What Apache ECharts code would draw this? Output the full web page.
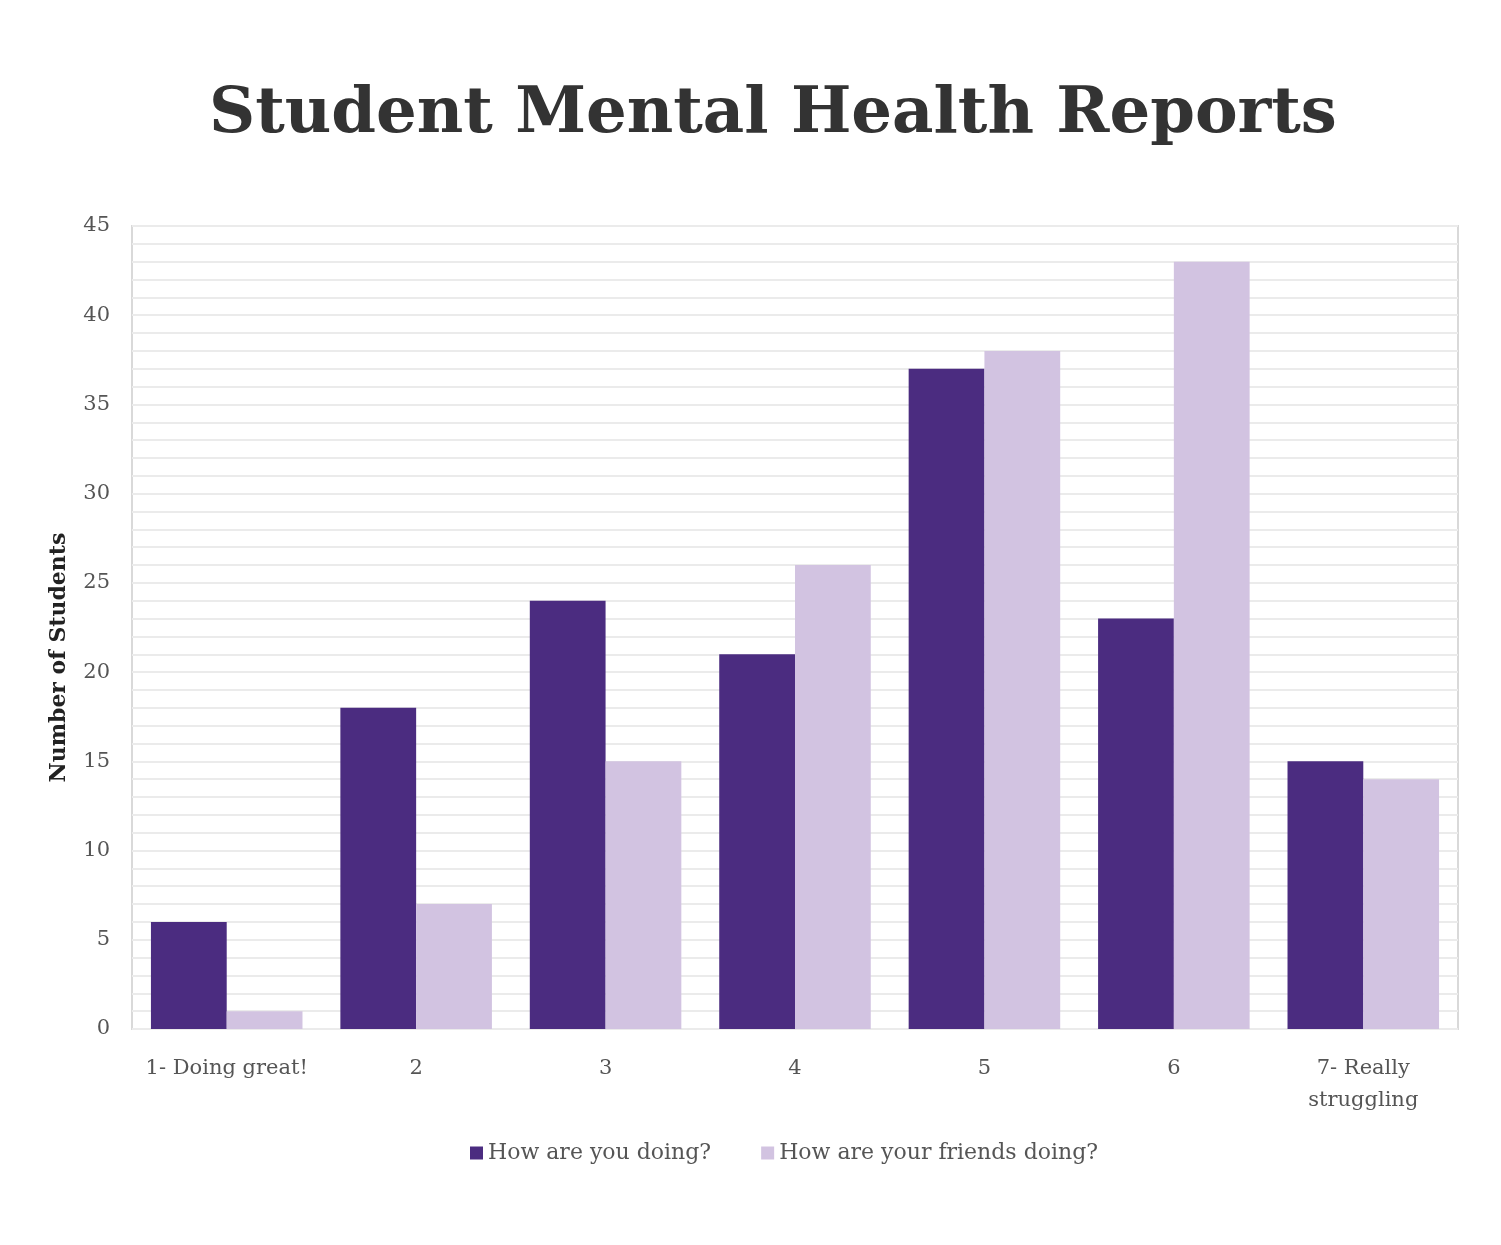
<!DOCTYPE html>
<html><head><meta charset="utf-8">
<script src="https://cdn.jsdelivr.net/npm/echarts@6/dist/echarts.min.js"></script>
<style>html,body{margin:0;padding:0;background:#fff}#c{width:1501px;height:1245px}</style>
</head><body><div id="c"></div>
<script>
const titleText = 'Student Mental Health Reports';
const categories = ['1- Doing great!', '2', '3', '4', '5', '6', '7- Really\nstruggling'];
const seriesNames = ['How are you doing?', 'How are your friends doing?'];
const youDoing = [6, 18, 24, 21, 37, 23, 15];
const friendsDoing = [1, 7, 15, 26, 38, 43, 14];
const yTicks = [0, 45, 5];

const labelFont = 'DejaVu Serif';
const chart = echarts.init(document.getElementById('c'));
chart.setOption({
  backgroundColor: '#fff',
  animation: false,
  title: {
    text: titleText, left: 204, top: 78,
    textStyle: { fontFamily: 'DejaVu Serif', fontWeight: 'bold', fontSize: 64, color: '#333' }
  },
  legend: {
    bottom: 76, left: 465, itemWidth: 13, itemHeight: 13, itemGap: 50,
    icon: 'rect',
    textStyle: { fontFamily: labelFont, fontSize: 22, color: '#555' },
    data: seriesNames
  },
  grid: { left: 132, right: 43, top: 226, bottom: 216, show: true, borderColor: '#d9d9d9', borderWidth: 2, containLabel: false },
  xAxis: {
    type: 'category', data: categories,
    axisLine: { show: false }, axisTick: { show: false },
    axisLabel: { fontFamily: labelFont, fontSize: 21, color: '#555', margin: 24, lineHeight: 32, interval: 0 }
  },
  yAxis: {
    type: 'value', min: yTicks[0], max: yTicks[1], interval: yTicks[2],
    name: 'Number of Students', nameLocation: 'middle', nameGap: 62,
    nameTextStyle: { fontFamily: labelFont, fontWeight: 'bold', fontSize: 22, color: '#222', padding: [0, 60, 0, 0] },
    axisLine: { show: false }, axisTick: { show: false },
    axisLabel: { fontFamily: labelFont, fontSize: 21, color: '#555', margin: 22 },
    splitLine: { lineStyle: { color: '#ebebeb', width: 2 } },
    minorTick: { show: false, splitNumber: 5 },
    minorSplitLine: { show: true, lineStyle: { color: '#ebebeb', width: 2 } }
  },
  series: [
    { name: seriesNames[0], type: 'bar', data: youDoing, barWidth: '40%', barGap: '0%', itemStyle: { color: '#4b2c80' } },
    { name: seriesNames[1], type: 'bar', data: friendsDoing, barWidth: '40%', barGap: '0%', itemStyle: { color: '#d2c3e1' } }
  ]
});
</script></body></html>
